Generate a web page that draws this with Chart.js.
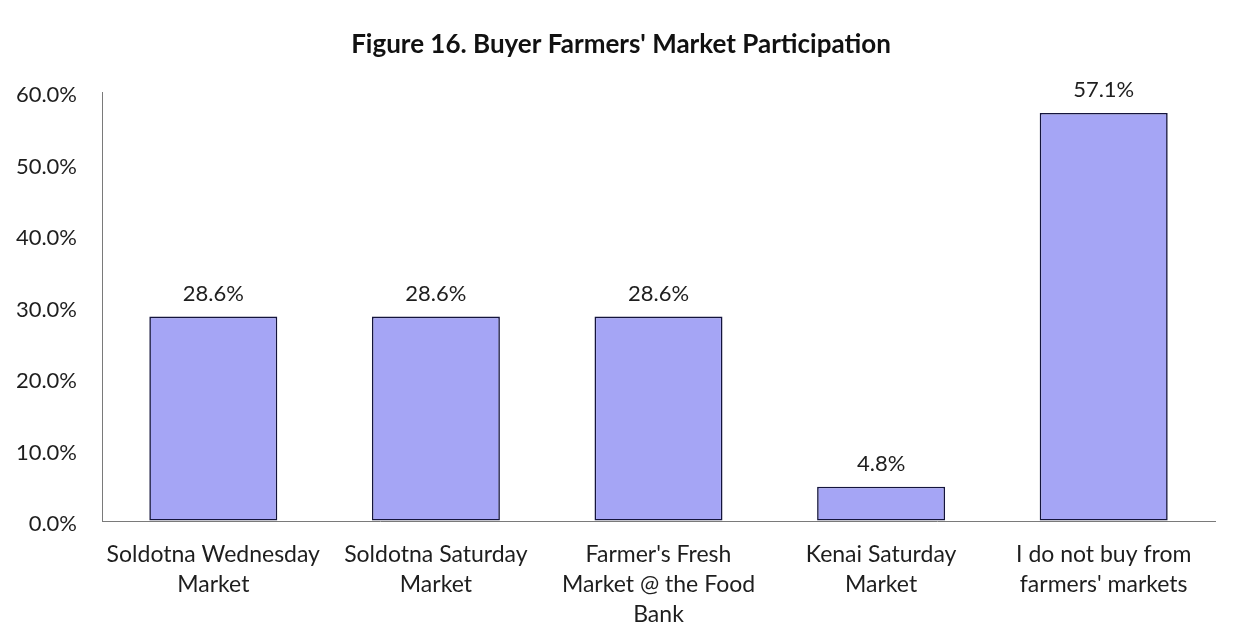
<!DOCTYPE html>
<html>
<head>
<meta charset="utf-8">
<script src="https://cdn.jsdelivr.net/npm/chart.js@4.4.1/dist/chart.umd.min.js"></script>
<style>
  html, body { margin: 0; padding: 0; background: #fff; }
  #wrap { width: 1242px; height: 635px; position: relative; }
</style>
</head>
<body>
<div id="wrap"><canvas id="marketChart"></canvas></div>
<script>
// categories (multi-line labels) and percentages
const markets = [
  ["Soldotna Wednesday", "Market"],
  ["Soldotna Saturday", "Market"],
  ["Farmer's Fresh", "Market @ the Food", "Bank"],
  ["Kenai Saturday", "Market"],
  ["I do not buy from", "farmers' markets"]
];
const participation = [28.6, 28.6, 28.6, 4.8, 57.1];
const yTicks = [0, 10, 20, 30, 40, 50, 60];

const fontFamily = "Lato, 'Noto Sans', sans-serif";
const textColor = "#1e1e1e";

// value labels above each bar
const barValueLabels = {
  id: "barValueLabels",
  afterDatasetsDraw(chart) {
    const ctx = chart.ctx;
    const meta = chart.getDatasetMeta(0);
    ctx.save();
    ctx.font = "22px " + fontFamily;
    ctx.fillStyle = textColor;
    ctx.textAlign = "center";
    ctx.textBaseline = "middle";
    meta.data.forEach((bar, i) => {
      ctx.fillText(participation[i].toFixed(1) + "%", bar.x, bar.y - 23);
    });
    ctx.restore();
  }
};

new Chart(document.getElementById("marketChart"), {
  type: "bar",
  data: {
    labels: markets,
    datasets: [{
      data: participation,
      backgroundColor: "rgb(165,165,245)",
      borderColor: "#14143c",
      borderWidth: 1.6,
      borderSkipped: false,
      categoryPercentage: 1,
      barPercentage: 0.575
    }]
  },
  options: {
    responsive: true,
    maintainAspectRatio: false,
    animation: false,
    layout: { padding: 0 },
    plugins: {
      legend: { display: false },
      tooltip: { enabled: false },
      title: {
        display: true,
        text: "Figure 16. Buyer Farmers' Market Participation",
        color: "#111",
        font: { family: fontFamily, size: 26, weight: "bold", lineHeight: 1.2 },
        padding: { top: 29, bottom: 32 }
      }
    },
    scales: {
      x: {
        grid: { display: true, color: "transparent", drawTicks: false },
        border: { display: true, color: "#7a7a7a", width: 1 },
        ticks: {
          color: textColor,
          font: { family: fontFamily, size: 23, lineHeight: 30 / 23 },
          padding: 19,
          maxRotation: 0,
          autoSkip: false
        },
        afterFit(scale) { scale.height = 114; }
      },
      y: {
        min: 0,
        max: 60,
        afterBuildTicks(scale) { scale.ticks = yTicks.map(v => ({ value: v })); },
        grid: { display: true, color: "transparent", drawTicks: false },
        border: { display: true, color: "#7a7a7a", width: 1 },
        ticks: {
          color: textColor,
          font: { family: fontFamily, size: 22 },
          padding: 25,
          labelOffset: 3,
          callback: v => v.toFixed(1) + "%"
        },
        afterFit(scale) { scale.width = 102; }
      },
      // empty strip on the right so the plot ends short of the edge
      yRight: {
        position: "right",
        min: 0,
        max: 60,
        grid: { display: false, drawTicks: false },
        border: { display: false },
        ticks: { display: false },
        afterFit(scale) { scale.width = 27; }
      }
    }
  },
  plugins: [barValueLabels]
});
</script>
</body>
</html>
